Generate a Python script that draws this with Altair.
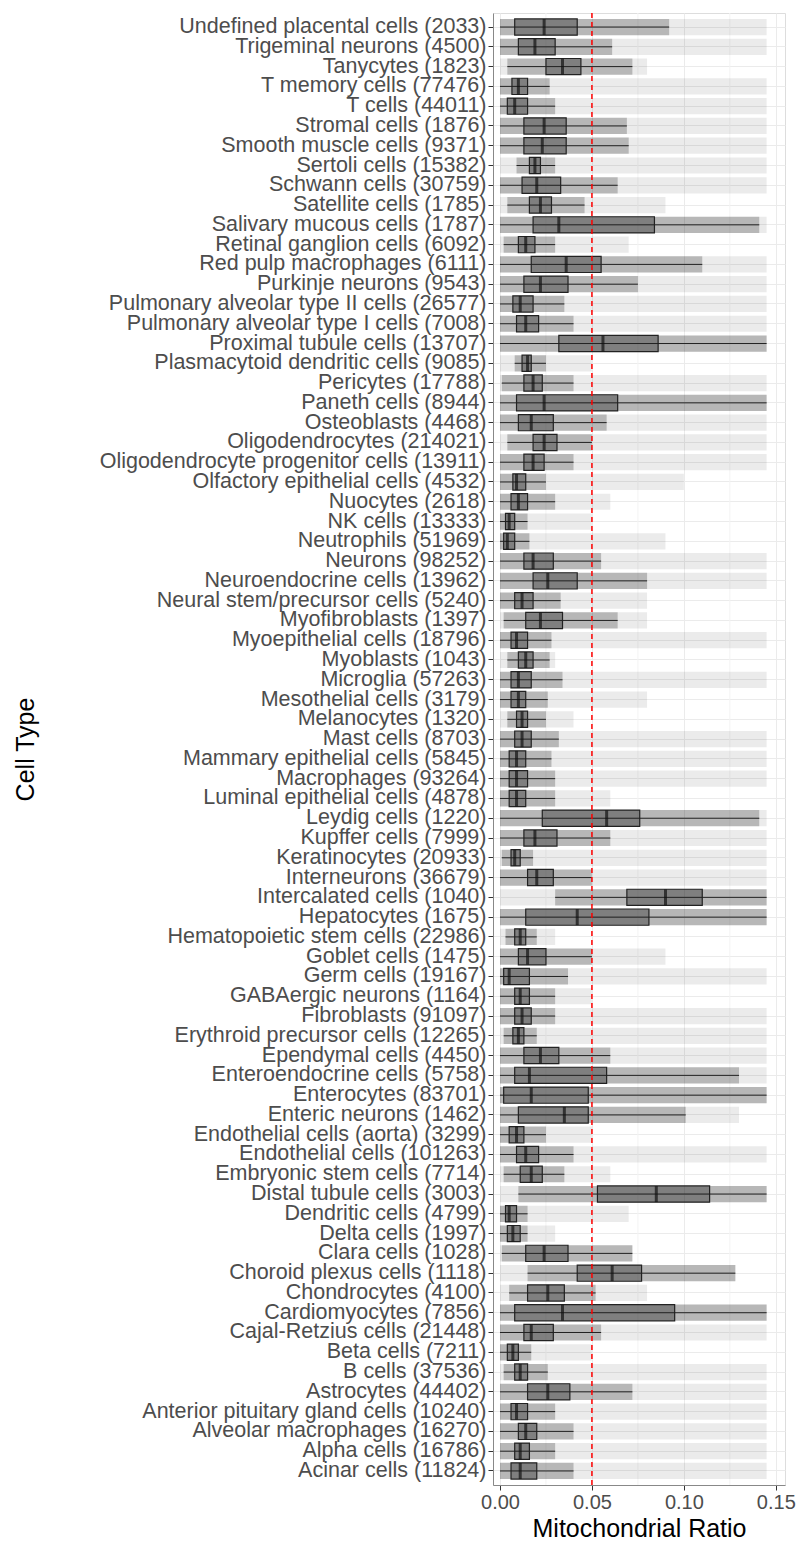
import altair as alt
import pandas as pd

names = ["Undefined placental cells (2033)","Trigeminal neurons (4500)","Tanycytes (1823)","T memory cells (77476)","T cells (44011)","Stromal cells (1876)","Smooth muscle cells (9371)","Sertoli cells (15382)","Schwann cells (30759)","Satellite cells (1785)","Salivary mucous cells (1787)","Retinal ganglion cells (6092)","Red pulp macrophages (6111)","Purkinje neurons (9543)","Pulmonary alveolar type II cells (26577)","Pulmonary alveolar type I cells (7008)","Proximal tubule cells (13707)","Plasmacytoid dendritic cells (9085)","Pericytes (17788)","Paneth cells (8944)","Osteoblasts (4468)","Oligodendrocytes (214021)","Oligodendrocyte progenitor cells (13911)","Olfactory epithelial cells (4532)","Nuocytes (2618)","NK cells (13333)","Neutrophils (51969)","Neurons (98252)","Neuroendocrine cells (13962)","Neural stem/precursor cells (5240)","Myofibroblasts (1397)","Myoepithelial cells (18796)","Myoblasts (1043)","Microglia (57263)","Mesothelial cells (3179)","Melanocytes (1320)","Mast cells (8703)","Mammary epithelial cells (5845)","Macrophages (93264)","Luminal epithelial cells (4878)","Leydig cells (1220)","Kupffer cells (7999)","Keratinocytes (20933)","Interneurons (36679)","Intercalated cells (1040)","Hepatocytes (1675)","Hematopoietic stem cells (22986)","Goblet cells (1475)","Germ cells (19167)","GABAergic neurons (1164)","Fibroblasts (91097)","Erythroid precursor cells (12265)","Ependymal cells (4450)","Enteroendocrine cells (5758)","Enterocytes (83701)","Enteric neurons (1462)","Endothelial cells (aorta) (3299)","Endothelial cells (101263)","Embryonic stem cells (7714)","Distal tubule cells (3003)","Dendritic cells (4799)","Delta cells (1997)","Clara cells (1028)","Choroid plexus cells (1118)","Chondrocytes (4100)","Cardiomyocytes (7856)","Cajal-Retzius cells (21448)","Beta cells (7211)","B cells (37536)","Astrocytes (44402)","Anterior pituitary gland cells (10240)","Alveolar macrophages (16270)","Alpha cells (16786)","Acinar cells (11824)"]
q1  = [.008,.010,.025,.0065,.004,.013,.013,.016,.012,.016,.018,.010,.017,.013,.007,.009,.032,.012,.013,.009,.010,.018,.013,.007,.006,.003,.002,.013,.018,.008,.014,.006,.010,.006,.006,.009,.008,.005,.005,.005,.023,.013,.006,.015,.069,.014,.008,.010,.002,.008,.008,.007,.013,.008,.002,.010,.005,.009,.011,.053,.003,.004,.014,.042,.015,.008,.013,.004,.008,.015,.006,.010,.008,.006]
med = [.024,.019,.034,.010,.008,.024,.023,.019,.020,.022,.032,.014,.036,.022,.011,.014,.056,.015,.018,.024,.017,.024,.018,.009,.010,.005,.004,.018,.026,.012,.022,.009,.014,.010,.010,.012,.012,.009,.009,.009,.058,.019,.008,.020,.090,.042,.011,.015,.005,.011,.012,.010,.022,.016,.017,.035,.009,.014,.017,.085,.005,.007,.024,.061,.026,.034,.017,.007,.011,.026,.009,.014,.011,.011]
q3  = [.042,.030,.044,.015,.015,.036,.036,.022,.033,.028,.084,.019,.055,.037,.018,.021,.086,.017,.023,.064,.029,.031,.024,.014,.015,.008,.008,.029,.042,.018,.034,.015,.018,.017,.014,.015,.017,.014,.015,.014,.076,.031,.011,.029,.110,.081,.014,.025,.016,.016,.017,.013,.032,.058,.048,.048,.013,.021,.023,.114,.009,.011,.037,.077,.035,.095,.029,.010,.015,.038,.015,.020,.016,.020]
lo  = [.000,.000,.004,.000,.000,.000,.000,.009,.000,.004,.000,.002,.000,.000,.000,.000,.000,.008,.001,.000,.000,.004,.000,.000,.000,.000,.000,.000,.000,.000,.002,.000,.004,.000,.000,.004,.000,.000,.000,.000,.000,.000,.001,.000,.030,.000,.003,.000,.000,.000,.000,.002,.000,.000,.000,.000,.000,.000,.002,.010,.000,.000,.001,.015,.005,.000,.000,.000,.002,.000,.000,.000,.000,.000]
hi  = [.092,.061,.072,.027,.030,.069,.070,.030,.064,.046,.141,.030,.110,.075,.035,.040,.145,.025,.040,.145,.058,.050,.040,.025,.030,.015,.016,.055,.080,.033,.064,.028,.027,.034,.026,.025,.032,.028,.030,.030,.141,.060,.018,.050,.145,.145,.020,.050,.037,.030,.030,.020,.060,.130,.145,.101,.025,.040,.035,.145,.015,.015,.072,.128,.052,.145,.055,.017,.026,.072,.030,.040,.030,.040]
pmax= [.145,.145,.080,.145,.145,.145,.145,.145,.145,.090,.145,.070,.145,.145,.145,.145,.145,.050,.145,.145,.145,.145,.145,.100,.060,.050,.090,.145,.145,.080,.080,.145,.030,.145,.080,.040,.145,.145,.145,.060,.145,.145,.145,.145,.145,.145,.030,.090,.145,.050,.145,.145,.145,.145,.145,.130,.050,.145,.060,.145,.070,.030,.072,.128,.080,.145,.145,.050,.145,.145,.145,.145,.145,.145]
minor = [0.025, 0.075, 0.125]

df = pd.DataFrame(dict(name=names, q1=q1, med=med, q3=q3, lo=lo, hi=hi, pmax=pmax, zero=[0.0]*len(names)))
df_minor = pd.DataFrame(dict(v=minor))

xs = alt.Scale(domain=[-0.0038, 0.155], nice=False, zero=False)
ys = alt.Scale(paddingInner=0.18, paddingOuter=0.3)
Y = alt.Y("name:N", sort=names, scale=ys, title="Cell Type",
          axis=alt.Axis(bandPosition=0.5, grid=True, gridColor="#ebebeb", labelFontSize=21.5,
                        labelColor="#4d4d4d", titleFontSize=25, titleFontWeight="normal",
                        titleColor="black", labelLimit=600, tickColor="#333",
                        titleX=-455, titleY=736, titleAngle=-90,
                        labelFont="Liberation Sans", titleFont="Liberation Sans"))
X = alt.X("zero:Q", scale=xs, title="Mitochondrial Ratio",
          axis=alt.Axis(values=[0, 0.05, 0.1, 0.15], format=".2f", gridColor="#ebebeb",
                        labelFontSize=20, labelColor="#4d4d4d", titleFontSize=25,
                        titleFontWeight="normal", titleColor="black", tickColor="#333",
                        labelFont="Liberation Sans", titleFont="Liberation Sans"))

base = alt.Chart(df)
minor_grid = alt.Chart(df_minor).mark_rule(color="#f3f3f3", strokeWidth=1).encode(x=alt.X("v:Q", scale=xs))
band1 = base.mark_bar(color="black", opacity=0.08).encode(x=X, x2="pmax:Q", y=Y)
band2 = base.mark_bar(color="black", opacity=0.22).encode(x=alt.X("lo:Q", scale=xs), x2="hi:Q", y=Y)
band3 = base.mark_bar(color="black", opacity=0.3).encode(x=alt.X("q1:Q", scale=xs), x2="q3:Q", y=Y)
whisk = base.mark_rule(color="#222", strokeWidth=1).encode(x=alt.X("lo:Q", scale=xs), x2="hi:Q", y=Y)
box = base.mark_bar(fill=None, stroke="#222", strokeWidth=1.2).encode(x=alt.X("q1:Q", scale=xs), x2="q3:Q", y=Y)
medtick = base.mark_tick(color="#111", thickness=3, size=16, orient="vertical").encode(x=alt.X("med:Q", scale=xs), y=Y)
red = alt.Chart(pd.DataFrame(dict(v=[0.05]))).mark_rule(color="red", strokeDash=[5, 4], strokeWidth=1.5).encode(x=alt.X("v:Q", scale=xs))

chart = alt.layer(minor_grid, band1, band2, band3, whisk, box, medtick, red).properties(
    width=292, height=1472
).configure_view(stroke="#333", strokeWidth=1).configure(padding={"left": 5, "top": 4, "right": 5, "bottom": 5})

chart.save("out.html", embed_options={"renderer": "svg", "actions": False})
